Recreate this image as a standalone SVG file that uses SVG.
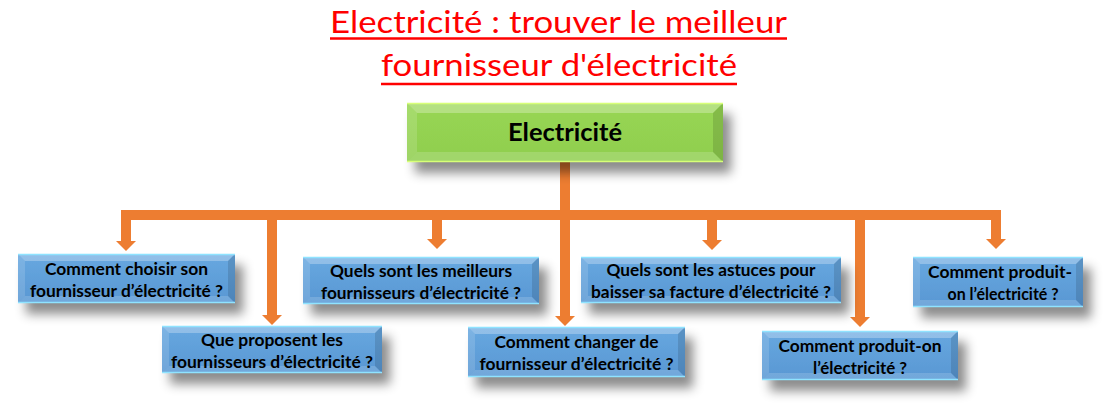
<svg xmlns="http://www.w3.org/2000/svg" width="1110" height="403" viewBox="0 0 1110 403">
<defs>
  <filter id="shadow" x="-20%" y="-30%" width="150%" height="190%">
    <feDropShadow dx="8" dy="11" stdDeviation="5.5" flood-color="#000" flood-opacity="0.45"/>
  </filter>
  <linearGradient id="gBlue" x1="0" y1="0" x2="0" y2="1">
    <stop offset="0" stop-color="#68A8E0"/>
    <stop offset="1" stop-color="#5897D3"/>
  </linearGradient>
  <linearGradient id="gGreen" x1="0" y1="0" x2="0" y2="1">
    <stop offset="0" stop-color="#98D653"/>
    <stop offset="1" stop-color="#8FCE4F"/>
  </linearGradient>
  <marker id="head" viewBox="0 -10 10 20" refX="0" refY="0" markerWidth="10" markerHeight="20" markerUnits="userSpaceOnUse" orient="auto">
    <path d="M0,-10 L10,0 L0,10 Z" fill="#ED7D31"/>
  </marker>
</defs>
<style>
  .title { font-family: Lato, "Open Sans", "Liberation Sans", sans-serif; font-size: 31px; fill: #FF0000; }
  .uline { stroke: #FF0000; stroke-width: 2.5; }
  .lbl { font-family: Lato, "Open Sans", "Liberation Sans", sans-serif; font-weight: bold; font-size: 17px; fill: #000; text-anchor: middle; }
  .root { font-size: 24px; }
  .blue .base { fill: url(#gBlue); filter: url(#shadow); }
  .green .base { fill: url(#gGreen); filter: url(#shadow); }
  .bt { fill: #fff; fill-opacity: 0.28; }
  .bl { fill: #fff; fill-opacity: 0.14; }
  .br { fill: #000; fill-opacity: 0.12; }
  .bb { fill: #fff; fill-opacity: 0.16; }
  .blue .edge { stroke: #8FE3FF; stroke-width: 1.5; }
  .green .edge { stroke: #D8FF78; stroke-width: 1.5; }
  .conn { stroke: #ED7D31; stroke-width: 10; fill: none; stroke-linecap: butt; }
  .arrow { marker-end: url(#head); }
</style>

<g id="title">
  <text class="title" x="558.5" y="33" text-anchor="middle" textLength="457" lengthAdjust="spacingAndGlyphs">Electricité : trouver le meilleur</text>
  <line class="uline" x1="330" y1="38.5" x2="787" y2="38.5"/>
  <text class="title" x="559" y="76" text-anchor="middle" textLength="356" lengthAdjust="spacingAndGlyphs">fournisseur d'électricité</text>
  <line class="uline" x1="381" y1="84" x2="737" y2="84"/>
</g>

<g id="connectors">
  <line class="conn" x1="121" y1="215" x2="1001" y2="215"/>
  <line class="conn arrow" x1="565" y1="162" x2="565" y2="316"/>
  <line class="conn arrow" x1="126" y1="215" x2="126" y2="241"/>
  <line class="conn arrow" x1="272" y1="215" x2="272" y2="315"/>
  <line class="conn arrow" x1="437" y1="215" x2="437" y2="239"/>
  <line class="conn arrow" x1="712" y1="215" x2="712" y2="240"/>
  <line class="conn arrow" x1="860" y1="215" x2="860" y2="317"/>
  <line class="conn arrow" x1="996" y1="215" x2="996" y2="239"/>
</g>

<g id="root" class="green">
  <rect class="base" x="407" y="103" width="316" height="59"/>
  <polygon class="bt" points="407,103 723,103 713,113 417,113"/>
  <polygon class="bl" points="407,103 417,113 417,152 407,162"/>
  <polygon class="br" points="723,103 723,162 713,152 713,113"/>
  <polygon class="bb" points="407,162 417,152 713,152 723,162"/>
  <line class="edge" x1="407" y1="103.5" x2="723" y2="103.5"/>
  <line class="edge" x1="407" y1="161.5" x2="723" y2="161.5"/>
  <text class="lbl root" x="565" y="141" textLength="114" lengthAdjust="spacingAndGlyphs">Electricité</text>
</g>

<g id="n1" class="blue">
  <rect class="base" x="18" y="254" width="217" height="49"/>
  <polygon class="bt" points="18,254 235,254 228,261 25,261"/>
  <polygon class="bl" points="18,254 25,261 25,296 18,303"/>
  <polygon class="br" points="235,254 235,303 228,296 228,261"/>
  <polygon class="bb" points="18,303 25,296 228,296 235,303"/>
  <line class="edge" x1="18" y1="254.5" x2="235" y2="254.5"/>
  <line class="edge" x1="18" y1="302.5" x2="235" y2="302.5"/>
  <text class="lbl" x="126.5" y="274.5" textLength="163" lengthAdjust="spacingAndGlyphs">Comment choisir son</text>
  <text class="lbl" x="126.5" y="296.5" textLength="193" lengthAdjust="spacingAndGlyphs">fournisseur d’électricité ?</text>
</g>

<g id="n2" class="blue">
  <rect class="base" x="162" y="326" width="220" height="47"/>
  <polygon class="bt" points="162,326 382,326 375,333 169,333"/>
  <polygon class="bl" points="162,326 169,333 169,366 162,373"/>
  <polygon class="br" points="382,326 382,373 375,366 375,333"/>
  <polygon class="bb" points="162,373 169,366 375,366 382,373"/>
  <line class="edge" x1="162" y1="326.5" x2="382" y2="326.5"/>
  <line class="edge" x1="162" y1="372.5" x2="382" y2="372.5"/>
  <text class="lbl" x="272" y="345.5" textLength="142" lengthAdjust="spacingAndGlyphs">Que proposent les</text>
  <text class="lbl" x="272" y="367.5" textLength="202" lengthAdjust="spacingAndGlyphs">fournisseurs d’électricité ?</text>
</g>

<g id="n3" class="blue">
  <rect class="base" x="303" y="257" width="236" height="47"/>
  <polygon class="bt" points="303,257 539,257 532,264 310,264"/>
  <polygon class="bl" points="303,257 310,264 310,297 303,304"/>
  <polygon class="br" points="539,257 539,304 532,297 532,264"/>
  <polygon class="bb" points="303,304 310,297 532,297 539,304"/>
  <line class="edge" x1="303" y1="257.5" x2="539" y2="257.5"/>
  <line class="edge" x1="303" y1="303.5" x2="539" y2="303.5"/>
  <text class="lbl" x="421" y="276.5" textLength="182" lengthAdjust="spacingAndGlyphs">Quels sont les meilleurs</text>
  <text class="lbl" x="421" y="298.5" textLength="200" lengthAdjust="spacingAndGlyphs">fournisseurs d’électricité ?</text>
</g>

<g id="n4" class="blue">
  <rect class="base" x="468" y="327" width="217" height="50"/>
  <polygon class="bt" points="468,327 685,327 678,334 475,334"/>
  <polygon class="bl" points="468,327 475,334 475,370 468,377"/>
  <polygon class="br" points="685,327 685,377 678,370 678,334"/>
  <polygon class="bb" points="468,377 475,370 678,370 685,377"/>
  <line class="edge" x1="468" y1="327.5" x2="685" y2="327.5"/>
  <line class="edge" x1="468" y1="376.5" x2="685" y2="376.5"/>
  <text class="lbl" x="576.5" y="348" textLength="164" lengthAdjust="spacingAndGlyphs">Comment changer de</text>
  <text class="lbl" x="576.5" y="370" textLength="194" lengthAdjust="spacingAndGlyphs">fournisseur d’électricité ?</text>
</g>

<g id="n5" class="blue">
  <rect class="base" x="581" y="257" width="260" height="46"/>
  <polygon class="bt" points="581,257 841,257 834,264 588,264"/>
  <polygon class="bl" points="581,257 588,264 588,296 581,303"/>
  <polygon class="br" points="841,257 841,303 834,296 834,264"/>
  <polygon class="bb" points="581,303 588,296 834,296 841,303"/>
  <line class="edge" x1="581" y1="257.5" x2="841" y2="257.5"/>
  <line class="edge" x1="581" y1="302.5" x2="841" y2="302.5"/>
  <text class="lbl" x="711" y="276" textLength="209" lengthAdjust="spacingAndGlyphs">Quels sont les astuces pour</text>
  <text class="lbl" x="711" y="298" textLength="240" lengthAdjust="spacingAndGlyphs">baisser sa facture d’électricité ?</text>
</g>

<g id="n6" class="blue">
  <rect class="base" x="762" y="331" width="196" height="49"/>
  <polygon class="bt" points="762,331 958,331 951,338 769,338"/>
  <polygon class="bl" points="762,331 769,338 769,373 762,380"/>
  <polygon class="br" points="958,331 958,380 951,373 951,338"/>
  <polygon class="bb" points="762,380 769,373 951,373 958,380"/>
  <line class="edge" x1="762" y1="331.5" x2="958" y2="331.5"/>
  <line class="edge" x1="762" y1="379.5" x2="958" y2="379.5"/>
  <text class="lbl" x="860" y="351.5" textLength="163" lengthAdjust="spacingAndGlyphs">Comment produit-on</text>
  <text class="lbl" x="860" y="373.5" textLength="94" lengthAdjust="spacingAndGlyphs">l’électricité ?</text>
</g>

<g id="n7" class="blue">
  <rect class="base" x="913" y="257" width="170" height="50"/>
  <polygon class="bt" points="913,257 1083,257 1076,264 920,264"/>
  <polygon class="bl" points="913,257 920,264 920,300 913,307"/>
  <polygon class="br" points="1083,257 1083,307 1076,300 1076,264"/>
  <polygon class="bb" points="913,307 920,300 1076,300 1083,307"/>
  <line class="edge" x1="913" y1="257.5" x2="1083" y2="257.5"/>
  <line class="edge" x1="913" y1="306.5" x2="1083" y2="306.5"/>
  <text class="lbl" x="1000" y="278" textLength="144" lengthAdjust="spacingAndGlyphs">Comment produit-</text>
  <text class="lbl" x="1003" y="300" textLength="111" lengthAdjust="spacingAndGlyphs">on l’électricité ?</text>
</g>
</svg>
